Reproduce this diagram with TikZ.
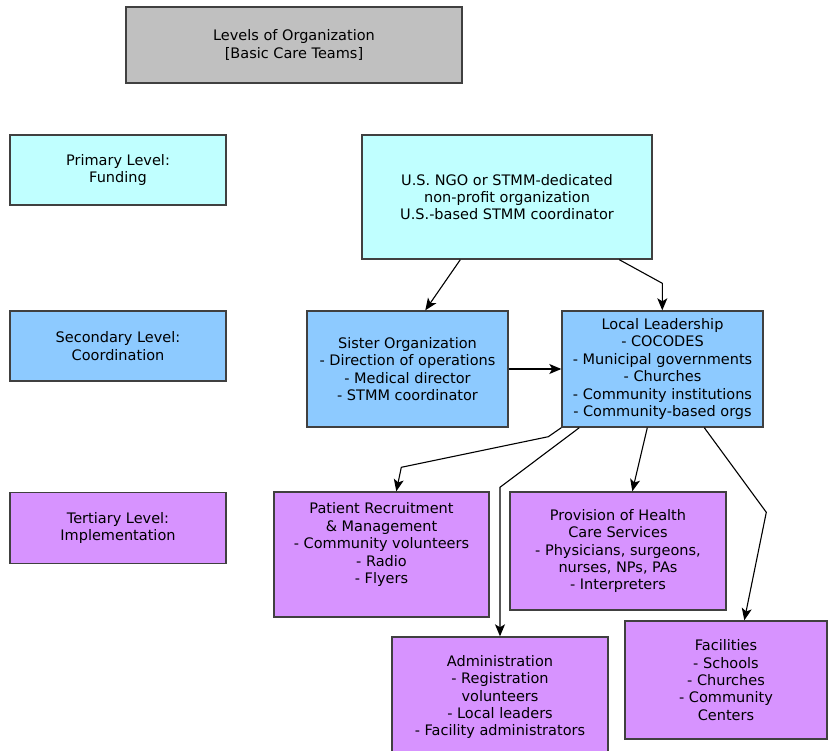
\documentclass[tikz,border=0pt]{standalone}
\usepackage{fontspec}
\setmainfont{DejaVu Sans}
\usetikzlibrary{arrows.meta,calc}
\definecolor{bordercol}{HTML}{404040}
\definecolor{titlegray}{HTML}{C0C0C0}
\definecolor{primcol}{HTML}{C0FFFF}
\definecolor{seccol}{HTML}{8DCAFF}
\definecolor{tercol}{HTML}{D793FF}
\tikzset{
  orgbox/.style={draw=bordercol, line width=1.4pt, rectangle, inner sep=0pt, align=center,
    font=\fontsize{14.5}{17.4}\selectfont},
  conn/.style={draw=black, line width=1.1pt, -{Stealth[length=12pt,width=10pt,inset=3pt]}},
}
\begin{document}
\begin{tikzpicture}[x=1pt,y=-1pt]
\useasboundingbox (0,0) rectangle (838,751);
\node[orgbox, fill=titlegray, minimum width=336pt, minimum height=76pt] (title) at (294,45) {Levels of Organization\\{[Basic Care Teams]}};
\node[orgbox, fill=primcol, minimum width=216pt, minimum height=70pt] (prim) at (118,170) {Primary Level:\\Funding};
\node[orgbox, fill=primcol, minimum width=290pt, minimum height=124pt] (ngo) at (507,197) {U.S. NGO or STMM-dedicated\\non-profit organization\\U.S.-based STMM coordinator};
\node[orgbox, fill=seccol, minimum width=216pt, minimum height=70pt] (sec) at (118,346) {Secondary Level:\\Coordination};
\node[orgbox, fill=seccol, minimum width=201pt, minimum height=116pt] (sister) at (407.5,369) {Sister Organization\\- Direction of operations\\- Medical director\\- STMM coordinator};
\node[orgbox, fill=seccol, minimum width=201pt, minimum height=116pt] (local) at (662.5,369) {Local Leadership\\- COCODES\\- Municipal governments\\- Churches\\- Community institutions\\- Community-based orgs};
\node[orgbox, fill=tercol, minimum width=216pt, minimum height=71pt] (ter) at (118,528) {Tertiary Level:\\Implementation};
\node[orgbox, fill=tercol, minimum width=215pt, minimum height=125pt] (patient) at (381.5,554.5) {Patient Recruitment\\\& Management\\- Community volunteers\\- Radio\\- Flyers\\\strut};
\node[orgbox, fill=tercol, minimum width=216pt, minimum height=118pt] (prov) at (618,551) {Provision of Health\\Care Services\\- Physicians, surgeons,\\nurses, NPs, PAs\\- Interpreters};
\node[orgbox, fill=tercol, minimum width=216pt, minimum height=120pt] (admin) at (500,697) {Administration\\- Registration\\volunteers\\- Local leaders\\- Facility administrators};
\node[orgbox, fill=tercol, minimum width=202pt, minimum height=118pt] (fac) at (726,680) {Facilities\\- Schools\\- Churches\\- Community\\Centers};
\draw[conn] ($(ngo.south west)+(99,0)$) -- ($(sister.north west)+(119,0)$);
\draw[conn] ($(ngo.south west)+(258,0)$) -- ($(local.north west)+(101,-27)$) -- ($(local.north west)+(101,0)$);
\draw[conn] (sister.east) -- (local.west);
\draw[conn] (local.south west) -- ($(local.south west)+(-13,9)$) -- ($(patient.north west)+(128,-24)$) -- ($(patient.north west)+(123,0)$);
\draw[conn] ($(local.south west)+(18,0)$) -- ($(admin.north)+(0,-149)$) -- (admin.north);
\draw[conn] ($(local.south west)+(86,0)$) -- ($(prov.north west)+(123,0)$);
\draw[conn] ($(local.south west)+(143,0)$) -- ($(fac.north west)+(142,-108)$) -- ($(fac.north west)+(120,0)$);
\end{tikzpicture}
\end{document}
